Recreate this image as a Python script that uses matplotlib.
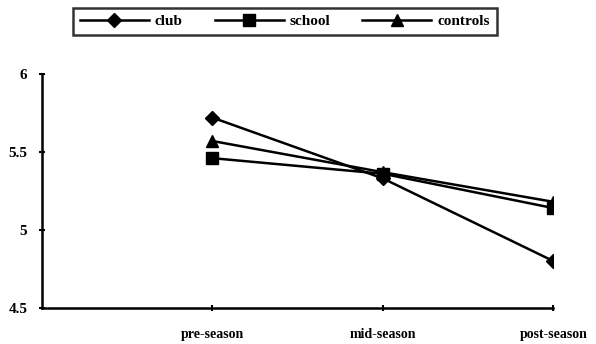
import matplotlib.pyplot as plt

# data
seasons = ['pre-season', 'mid-season', 'post-season']
club = [5.72, 5.33, 4.80]
school = [5.46, 5.36, 5.14]
controls = [5.57, 5.37, 5.18]

plt.rcParams['font.family'] = ['Liberation Serif', 'DejaVu Serif']
plt.rcParams['font.weight'] = 'bold'

fig = plt.figure(figsize=(5.96, 3.44), dpi=100)
ax = fig.add_axes([0.0705, 0.105, 0.858, 0.68])

x = [1, 2, 3]
ax.plot(x, club, color='black', lw=1.8, marker='D', ms=7, label='club')
ax.plot(x, school, color='black', lw=1.8, marker='s', ms=8, label='school')
ax.plot(x, controls, color='black', lw=1.8, marker='^', ms=9, label='controls')

ax.set_xlim(0, 3)
ax.set_ylim(4.5, 6)
ax.set_xticks(x)
ax.set_xticklabels(seasons, fontsize=10, fontweight='bold')
ax.set_yticks([4.5, 5, 5.5, 6])
ax.set_yticklabels(['4.5', '5', '5.5', '6'], fontsize=11, fontweight='bold')
ax.tick_params(direction='inout', length=5, width=1.5, pad=8)
ax.tick_params(axis='x', pad=12)

for side in ['top', 'right']:
    ax.spines[side].set_visible(False)
for side in ['left', 'bottom']:
    ax.spines[side].set_linewidth(1.8)

leg = fig.legend(loc='upper center', bbox_to_anchor=(0.478, 1.0), ncol=3,
                 frameon=True, fancybox=False, edgecolor='black',
                 fontsize=11, handlelength=4.5, borderpad=0.45,
                 columnspacing=2.1, handletextpad=0.4)
leg.get_frame().set_linewidth(1.8)

plt.savefig('out.png', dpi=100)
plt.close()
